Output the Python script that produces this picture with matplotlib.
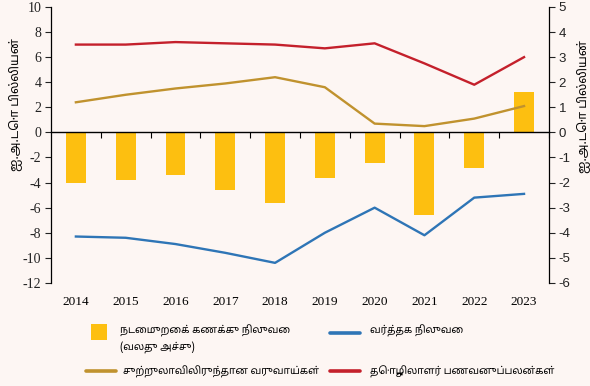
import matplotlib
matplotlib.use("Agg")
import matplotlib.pyplot as plt
from matplotlib.lines import Line2D
from matplotlib.patches import Rectangle
import numpy as np

years = ["2014", "2015", "2016", "2017", "2018", "2019", "2020", "2021", "2022", "2023"]

# USD billion
current_account = [-2.0, -1.9, -1.7, -2.3, -2.8, -1.8, -1.2, -3.3, -1.4, 1.6]   # right axis
trade_balance = [-8.3, -8.4, -8.9, -9.6, -10.4, -8.0, -6.0, -8.2, -5.2, -4.9]
tourism = [2.4, 3.0, 3.5, 3.9, 4.4, 3.6, 0.7, 0.5, 1.1, 2.1]
remittances = [7.0, 7.0, 7.2, 7.1, 7.0, 6.7, 7.1, 5.5, 3.8, 6.0]

left_ticks = list(range(-12, 11, 2))
right_ticks = list(range(-6, 6))

label_cur = "நடைமுறைக் கணக்கு நிலுவை"
label_cur2 = "(வலது அச்சு)"
label_trade = "வர்த்தக நிலுவை"
label_tour = "சுற்றுலாவிலிருந்தான வருவாய்கள்"
label_remit = "தொழிலாளர் பணவனுப்பலன்கள்"
unit_label = "ஐ.அ.டொ பில்லியன்"

bg = "#fdf6f3"
c_bar = "#fdbf10"
c_trade = "#2e75b6"
c_tour = "#c0922e"
c_remit = "#c4202b"
tamil = ["Noto Sans Tamil", "DejaVu Sans"]
leg_fs = 7.3

fig = plt.figure(figsize=(5.9, 3.86), dpi=100, facecolor=bg)
ax = fig.add_axes([0.0864, 0.267, 0.844, 0.715])
ax2 = ax.twinx()
ax.set_zorder(ax2.get_zorder() + 1)
ax.patch.set_visible(False)
ax2.set_facecolor(bg)

x = np.arange(len(years))

# current account bars on the right axis, behind the lines
ax2.bar(x, current_account, width=0.4, color=c_bar)
ax2.set_ylim(-6, 5)
ax2.set_yticks(right_ticks)
ax2.set_yticklabels([str(v) for v in right_ticks], family="Liberation Sans", fontsize=9.5)

ax.plot(x, remittances, color=c_remit, lw=1.7)
ax.plot(x, tourism, color=c_tour, lw=1.7)
ax.plot(x, trade_balance, color=c_trade, lw=1.7)
ax.set_ylim(-12, 10)
ax.set_xlim(-0.5, len(years) - 0.5)
ax.set_yticks(left_ticks)
ax.set_yticklabels([str(v) for v in left_ticks], family="Liberation Serif", fontsize=10)

for a in (ax, ax2):
    a.spines["top"].set_visible(False)
    a.tick_params(axis="y", length=4, width=0.8, pad=3, colors="#222222")
ax2.spines["bottom"].set_visible(False)
ax2.spines["left"].set_visible(False)
ax.spines["right"].set_visible(False)
ax2.spines["right"].set_linewidth(0.9)
ax.spines["left"].set_linewidth(0.9)

# zero line with small ticks between the years
ax.spines["bottom"].set_position(("data", 0))
ax.spines["bottom"].set_linewidth(1.0)
ax.set_xticks(x + 0.5, minor=True)
ax.set_xticks([])
ax.tick_params(axis="x", which="minor", length=4, width=0.8, direction="out")
for i, yr in enumerate(years):
    ax.text(i, -0.07, yr, transform=ax.get_xaxis_transform(), ha="center", va="center",
            family="Liberation Serif", fontsize=9.5)

ax.set_ylabel(unit_label, family=tamil, fontsize=8.8)
ax.yaxis.set_label_coords(-0.058, 0.645)
ax2.set_ylabel(unit_label, family=tamil, fontsize=8.8)
ax2.yaxis.set_label_coords(1.055, 0.64)
ax2.yaxis.label.set_rotation(90)

# legend below the plot
W, H = 590.0, 386.0
fig.add_artist(Rectangle((91 / W, 1 - 340 / H), 16 / W, 16 / H, transform=fig.transFigure,
                         facecolor=c_bar, edgecolor="none"))
fig.text(120 / W, 1 - 331 / H, label_cur, family=tamil, fontsize=leg_fs, va="center")
fig.text(120 / W, 1 - 347 / H, label_cur2, family=tamil, fontsize=leg_fs, va="center")
fig.add_artist(Line2D([330 / W, 360 / W], [1 - 333 / H] * 2, transform=fig.transFigure,
                      color=c_trade, lw=2.6, solid_capstyle="round"))
fig.text(370 / W, 1 - 331 / H, label_trade, family=tamil, fontsize=leg_fs, va="center")
fig.add_artist(Line2D([86 / W, 116 / W], [1 - 371 / H] * 2, transform=fig.transFigure,
                      color=c_tour, lw=2.6, solid_capstyle="round"))
fig.text(123 / W, 1 - 372 / H, label_tour, family=tamil, fontsize=leg_fs, va="center")
fig.add_artist(Line2D([330 / W, 360 / W], [1 - 371 / H] * 2, transform=fig.transFigure,
                      color=c_remit, lw=2.6, solid_capstyle="round"))
fig.text(370 / W, 1 - 372 / H, label_remit, family=tamil, fontsize=leg_fs, va="center")

fig.savefig("out.png", dpi=100, facecolor=bg)
